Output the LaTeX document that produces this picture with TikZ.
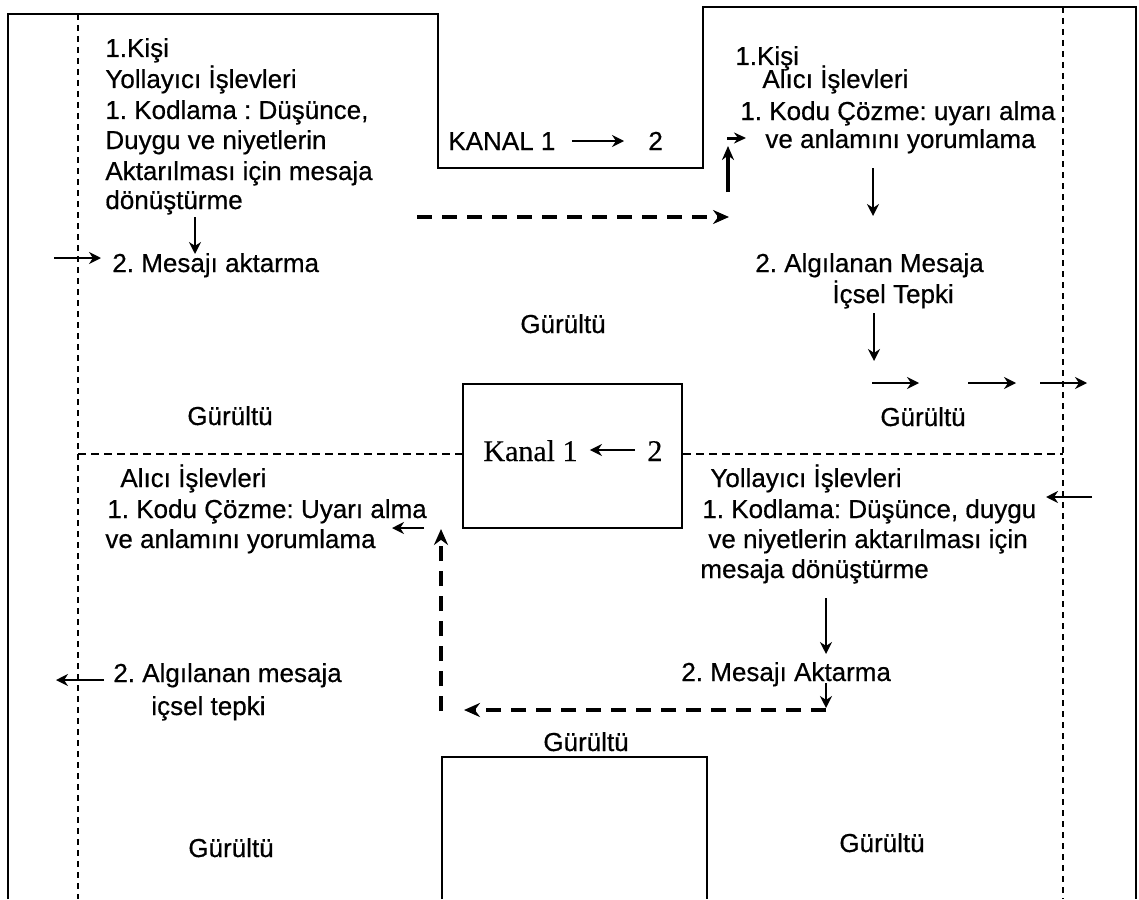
\documentclass[tikz,border=0pt]{standalone}
\usepackage{fontspec}
\setmainfont{Liberation Sans}[FakeBold=0.5]
\newfontfamily\serifface{Liberation Serif}[FakeBold=0.3]
\usetikzlibrary{arrows.meta}
\frenchspacing
\begin{document}
\begin{tikzpicture}[x=0.5pt,y=-0.5pt,
  txt/.style={inner sep=0pt, anchor=base west, font=\frenchspacing\fontsize{13}{15}\selectfont},
  sertxt/.style={inner sep=0pt, anchor=base west, font=\serifface\fontsize{15}{18}\selectfont},
  solidline/.style={line width=1.3pt},
  thindash/.style={line width=1pt, dash pattern=on 3pt off 2.5pt},
  hdash/.style={line width=1pt, dash pattern=on 4pt off 2.5pt},
  thickdash/.style={line width=2pt, dash pattern=on 7.5pt off 5pt, -{Stealth[length=8pt,width=7pt]}},
  arr/.style={line width=0.9pt, -{Stealth[length=6pt,width=6pt]}},
  thickarr/.style={line width=2pt, -{Stealth[length=7pt,width=6pt]}}
]
\useasboundingbox (0,0) rectangle (1139,899);
\fill[white] (0,0) rectangle (1139,899);

% outer solid frame
\draw[solidline] (8,899) -- (8,14) -- (438,14) -- (438,168) -- (703,168) -- (703,7) -- (1136,7) -- (1136,899);
% dashed verticals
\draw[thindash] (78,14) -- (78,899);
\draw[thindash] (1063,7) -- (1063,899);

% middle box
\node[draw, solidline, minimum width=109.5pt, minimum height=72pt, inner sep=0pt] (box) at (572.5,456) {};
\coordinate (hl) at (78,454);
\coordinate (hr) at (1063,454);
\draw[hdash] (hl) -- (box.west |- hl);
\draw[hdash] (box.east |- hr) -- (hr);

% bottom open box
\draw[solidline] (442,899) -- (442,757) -- (707,757) -- (707,899);

% top-left block
\node[txt] (tl1) at (105,57) {1.Kişi};
\node[txt] (tl2) at (105,88) {Yollayıcı İşlevleri};
\node[txt] (tl3) at (105,119) {1. Kodlama : Düşünce,};
\node[txt] (tl4) at (105,149) {Duygu ve niyetlerin};
\node[txt] (tl5) at (105,180) {Aktarılması için mesaja};
\node[txt] (tl6) at (105,209) {dönüştürme};
\node[txt] (tl7) at (112,272) {2. Mesajı aktarma};
\coordinate (a1s) at (195,217); \coordinate (a1e) at (195,254);
\draw[arr] (a1s) -- (a1e);
\coordinate (a2s) at (54,258); \coordinate (a2e) at (101,258);
\draw[arr] (a2s) -- (a2e);

% top channel
\node[txt] (kan1) at (448,150) {KANAL 1};
\node[txt] (kan2) at (648,150) {2};
\draw[arr] ([xshift=8pt,yshift=4.5pt]kan1.base east) -- ([xshift=-12pt,yshift=4.5pt]kan2.base west);

\node[txt] (g1) at (520,333) {Gürültü};

% dashed arrow to receiver
\coordinate (d1s) at (417,217); \coordinate (d1e) at (729,217);
\draw[thickdash] (d1s) -- (d1e);
\coordinate (u1s) at (728,192); \coordinate (u1e) at (728,146);
\draw[thickarr] (u1s) -- (u1e);
\coordinate (r1s) at (727,138); \coordinate (r1e) at (746,138);
\draw[line width=1.5pt, -{Stealth[length=6pt,width=5.5pt]}] (r1s) -- (r1e);

% top-right block
\node[txt] (tr1) at (735,65) {1.Kişi};
\node[txt] (tr2) at (762,88) {Alıcı İşlevleri};
\node[txt] (tr3) at (740,120) {1. Kodu Çözme: uyarı alma};
\node[txt] (tr4) at (765,148) {ve anlamını yorumlama};
\coordinate (a3s) at (873,168); \coordinate (a3e) at (873,216);
\draw[arr] (a3s) -- (a3e);
\node[txt] (tr5) at (755,272) {2. Algılanan Mesaja};
\node[txt] (tr6) at (832,303) {İçsel Tepki};
\coordinate (a4s) at (874,313); \coordinate (a4e) at (874,361);
\draw[arr] (a4s) -- (a4e);
\coordinate (b1s) at (872,383); \coordinate (b1e) at (919,383);
\coordinate (b2s) at (968,383); \coordinate (b2e) at (1016,383);
\coordinate (b3s) at (1040,383); \coordinate (b3e) at (1087,383);
\draw[arr] (b1s) -- (b1e);
\draw[arr] (b2s) -- (b2e);
\draw[arr] (b3s) -- (b3e);
\node[txt] (g2) at (880,426) {Gürültü};
\node[txt] (g3) at (187,425) {Gürültü};

% middle-left block
\node[txt] (ml1) at (120,487) {Alıcı İşlevleri};
\node[txt] (ml2) at (107,518) {1. Kodu Çözme: Uyarı alma};
\node[txt] (ml3) at (105,548) {ve anlamını yorumlama};
\coordinate (a5s) at (424,528); \coordinate (a5e) at (392,528);
\draw[arr] (a5s) -- (a5e);
\coordinate (d2s) at (441,711); \coordinate (d2e) at (441,529);
\draw[thickdash] (d2s) -- (d2e);

% channel box text
\node[sertxt] (k1) at (483,461) {Kanal 1};
\node[sertxt] (k2) at (647,461) {2};
\draw[arr] ([xshift=-6pt,yshift=5.5pt]k2.base west) -- ([xshift=6pt,yshift=5.5pt]k1.base east);

% middle-right block
\node[txt] (mr1) at (710,487) {Yollayıcı İşlevleri};
\node[txt] (mr2) at (702,518) {1. Kodlama: Düşünce, duygu};
\node[txt] (mr3) at (708,548) {ve niyetlerin aktarılması için};
\node[txt] (mr4) at (700,578) {mesaja dönüştürme};
\coordinate (a6s) at (1092,497); \coordinate (a6e) at (1046,497);
\draw[arr] (a6s) -- (a6e);
\coordinate (a7s) at (826,598); \coordinate (a7e) at (826,654);
\draw[arr] (a7s) -- (a7e);
\node[txt] (mr5) at (681,681) {2. Mesajı Aktarma};
\coordinate (a8s) at (826,683); \coordinate (a8e) at (826,708);
\draw[arr] (a8s) -- (a8e);
\coordinate (d3s) at (826,710); \coordinate (d3e) at (464,710);
\draw[thickdash] (d3s) -- (d3e);

% bottom-left block
\node[txt] (bl1) at (113,682) {2. Algılanan mesaja};
\node[txt] (bl2) at (151,715) {içsel tepki};
\coordinate (a9s) at (104,680); \coordinate (a9e) at (56,680);
\draw[arr] (a9s) -- (a9e);

% bottom noise labels
\node[txt] (g4) at (543,751) {Gürültü};
\node[txt] (g5) at (188,857) {Gürültü};
\node[txt] (g6) at (839,852) {Gürültü};
\end{tikzpicture}
\end{document}
